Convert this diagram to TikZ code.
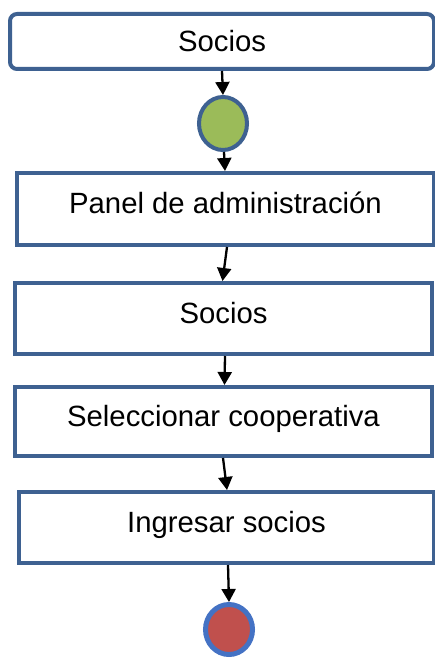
\documentclass[tikz,border=0pt]{standalone}
\usepackage{fontspec}
\setmainfont{Liberation Sans}
\usetikzlibrary{arrows.meta,shapes.geometric}
\definecolor{boxblue}{HTML}{3E6191}
\definecolor{startgreen}{HTML}{9BBB59}
\definecolor{endred}{HTML}{C0504D}
\definecolor{endblue}{HTML}{4472C4}
\begin{document}
\begin{tikzpicture}[x=1pt,y=-1pt,
  box/.style={draw=boxblue, line width=4pt, fill=white, inner sep=0pt,
    font=\fontsize{29.3}{34}\selectfont, text height=21pt, text depth=12pt},
  topbox/.style={box, rounded corners=7pt, text depth=0pt},
  startnode/.style={ellipse, draw=boxblue, line width=4pt, fill=startgreen, inner sep=0pt},
  endnode/.style={ellipse, draw=endblue, line width=5pt, fill=endred, inner sep=0pt},
  arr/.style={line width=2.3pt, -{Triangle[width=14pt,length=13pt]}}
]
\clip (0,0) rectangle (435,658);
\fill[white] (0,0) rectangle (435,658);
\node[topbox, minimum width=424pt, minimum height=55pt] (b1) at (222,41.5) {Socios};
\node[startnode, minimum width=48pt, minimum height=53pt] (s) at (223,123.5) {};
\node[box, minimum width=417pt, minimum height=72pt] (b2) at (225.5,209) {Panel de administración};
\node[box, minimum width=417pt, minimum height=71pt] (b3) at (223.5,318.5) {Socios};
\node[box, minimum width=417pt, minimum height=69pt] (b4) at (223.5,421.5) {Seleccionar cooperativa};
\node[box, minimum width=415pt, minimum height=71pt] (b5) at (226.5,527.5) {Ingresar socios};
\node[endnode, minimum width=47pt, minimum height=50pt] (e) at (229,629.5) {};
\draw[arr] (b1.south) -- (s.north);
\draw[arr] ([xshift=1pt]s.south) -- ([xshift=-0.5pt]b2.north);
\draw[arr] ([xshift=1.5pt]b2.south) -- ([xshift=-1pt]b3.north);
\draw[arr] ([xshift=1.5pt]b3.south) -- ([xshift=1pt]b4.north);
\draw[arr] ([xshift=-0.5pt]b4.south) -- ([xshift=0.5pt]b5.north);
\draw[arr] ([xshift=1.5pt]b5.south) -- (e.north);
\end{tikzpicture}
\end{document}
